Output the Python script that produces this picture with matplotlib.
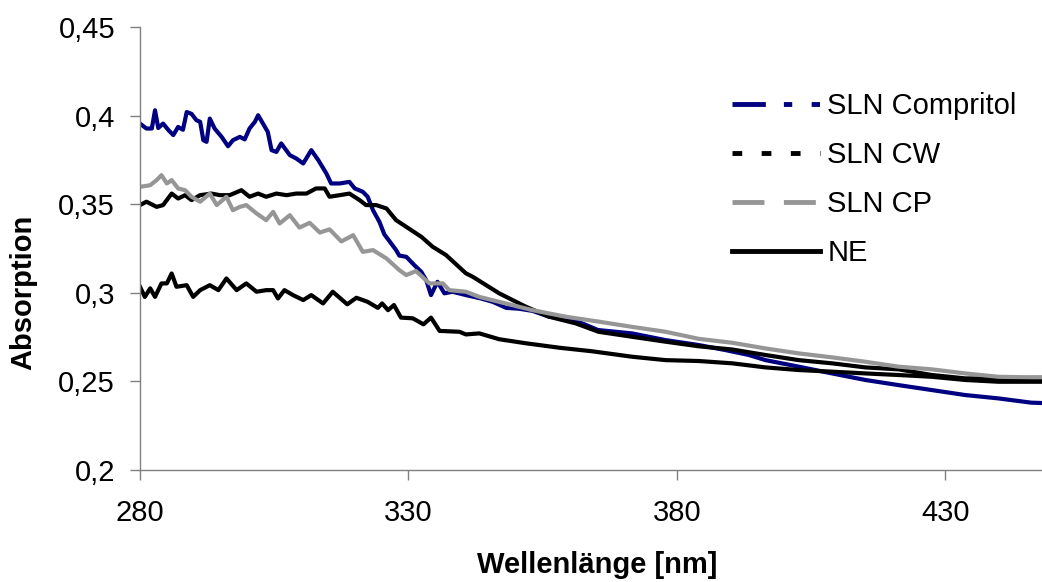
import matplotlib
matplotlib.use('Agg')
import matplotlib.pyplot as plt
from matplotlib.lines import Line2D
from matplotlib.ticker import FuncFormatter, MultipleLocator

# wavelength [nm] / absorption
wl_comp = [280.0, 281.2, 282.2, 282.8, 283.4, 284.3, 285.3, 286.2, 287.1, 288.0,
           288.7, 289.6, 290.5, 291.2, 291.8, 292.4, 293.0, 293.9, 295.2, 296.4,
           297.3, 298.6, 299.5, 300.4, 301.4, 302.0, 302.9, 303.8, 304.5, 305.4,
           306.3, 307.9, 309.1, 310.4, 311.9, 313.2, 314.7, 315.6, 317.2, 319.0,
           320.0, 321.5, 322.4, 323.4, 324.6, 325.5, 326.5, 327.7, 328.3, 329.6,
           331.1, 332.4, 333.3, 334.2, 335.4, 336.7, 338.2, 340.7, 343.5, 345.7,
           348.2, 350.6, 353.1, 356.2, 359.3, 362.4, 365.3, 371.6, 377.9, 384.1,
           389.0, 393.4, 396.5, 402.7, 408.9, 415.1, 421.3, 427.5, 433.7, 439.9,
           446.0, 448.0]
abs_comp = [0.3955, 0.3927, 0.3927, 0.4030, 0.3930, 0.3955, 0.3918, 0.3890, 0.3936, 0.3920,
            0.4020, 0.4010, 0.3974, 0.3965, 0.3861, 0.3852, 0.3983, 0.3927, 0.3880, 0.3827,
            0.3861, 0.3880, 0.3866, 0.3927, 0.3965, 0.4002, 0.3955, 0.3908, 0.3805, 0.3795,
            0.3843, 0.3777, 0.3758, 0.3730, 0.3805, 0.3749, 0.3674, 0.3617, 0.3617, 0.3626,
            0.3589, 0.3570, 0.3542, 0.3466, 0.3400, 0.3330, 0.3290, 0.3241, 0.3210, 0.3203,
            0.3156, 0.3118, 0.3072, 0.2987, 0.3062, 0.2997, 0.3006, 0.2987, 0.2968, 0.2949,
            0.2915, 0.2910, 0.2898, 0.2865, 0.2855, 0.2827, 0.2790, 0.2771, 0.2733, 0.2705,
            0.2677, 0.2649, 0.2620, 0.2583, 0.2545, 0.2508, 0.2479, 0.2451, 0.2423, 0.2404,
            0.2380, 0.2378]

wl_cw = [280.0, 281.2, 283.1, 284.3, 285.9, 287.1, 288.4, 289.6, 291.2, 293.3,
         294.9, 296.7, 298.9, 300.4, 302.0, 303.5, 305.4, 307.3, 309.1, 311.0,
         312.8, 314.4, 315.3, 317.2, 319.0, 320.9, 322.1, 324.0, 325.9, 327.7,
         329.6, 332.4, 334.5, 337.0, 340.7, 342.0, 346.9, 351.9, 356.2, 361.2,
         365.4, 371.6, 377.9, 384.1, 390.3, 396.5, 402.7, 408.9, 415.1, 421.3,
         427.5, 433.7, 439.9, 446.0, 448.0]
abs_cw = [0.3495, 0.3514, 0.3485, 0.3495, 0.3560, 0.3532, 0.3551, 0.3523, 0.3551, 0.3560,
          0.3551, 0.3551, 0.3579, 0.3542, 0.3560, 0.3542, 0.3560, 0.3551, 0.3560, 0.3560,
          0.3589, 0.3589, 0.3542, 0.3551, 0.3560, 0.3523, 0.3495, 0.3495, 0.3476, 0.3410,
          0.3372, 0.3316, 0.3260, 0.3213, 0.3110, 0.3090, 0.2997, 0.2921, 0.2865, 0.2827,
          0.2780, 0.2752, 0.2724, 0.2698, 0.2680, 0.2649, 0.2620, 0.2602, 0.2579, 0.2568,
          0.2536, 0.2517, 0.2515, 0.2520, 0.2520]

wl_cp = [280.0, 281.9, 283.1, 284.0, 285.0, 285.9, 287.1, 288.4, 289.6, 291.2,
         293.0, 294.3, 296.1, 297.3, 298.6, 299.8, 301.7, 303.5, 304.8, 306.0,
         307.9, 309.7, 311.6, 313.5, 315.3, 317.5, 319.7, 321.5, 323.4, 325.9,
         328.3, 329.6, 331.4, 333.9, 336.4, 337.6, 340.7, 343.2, 346.9, 353.1,
         359.3, 365.5, 371.6, 377.9, 384.1, 390.3, 396.5, 402.7, 408.8, 415.1,
         421.3, 427.5, 433.7, 439.9, 446.0, 448.0]
abs_cp = [0.3598, 0.3607, 0.3636, 0.3664, 0.3617, 0.3636, 0.3589, 0.3579, 0.3542, 0.3514,
          0.3560, 0.3495, 0.3542, 0.3466, 0.3485, 0.3495, 0.3448, 0.3410, 0.3457, 0.3391,
          0.3438, 0.3368, 0.3395, 0.3340, 0.3358, 0.3290, 0.3325, 0.3231, 0.3241, 0.3194,
          0.3128, 0.3100, 0.3123, 0.3053, 0.3053, 0.3015, 0.3006, 0.2977, 0.2949, 0.2902,
          0.2865, 0.2837, 0.2808, 0.2780, 0.2740, 0.2718, 0.2686, 0.2658, 0.2636, 0.2611,
          0.2583, 0.2568, 0.2545, 0.2526, 0.2523, 0.2523]

wl_ne = [280.0, 280.9, 281.9, 282.8, 284.0, 285.0, 285.9, 286.8, 288.7, 289.9,
         291.2, 293.0, 294.6, 296.1, 298.0, 299.8, 301.7, 303.5, 304.8, 305.7,
         306.9, 308.5, 310.4, 311.9, 314.1, 315.9, 318.6, 320.3, 322.4, 324.3,
         325.1, 326.2, 327.3, 328.6, 330.8, 332.8, 334.2, 335.8, 339.5, 340.7,
         343.2, 346.9, 351.9, 358.1, 364.2, 371.7, 377.9, 384.1, 390.3, 396.5,
         402.7, 408.8, 415.1, 421.3, 427.5, 433.7, 439.9, 446.0, 448.0]
abs_ne = [0.3034, 0.2977, 0.3025, 0.2977, 0.3053, 0.3053, 0.3109, 0.3034, 0.3043, 0.2977,
          0.3015, 0.3043, 0.3015, 0.3081, 0.3015, 0.3053, 0.3006, 0.3015, 0.3015, 0.2968,
          0.3015, 0.2987, 0.2959, 0.2987, 0.2940, 0.3006, 0.2935, 0.2972, 0.2949, 0.2915,
          0.2940, 0.2902, 0.2931, 0.2860, 0.2856, 0.2822, 0.2860, 0.2785, 0.2780, 0.2765,
          0.2771, 0.2738, 0.2715, 0.2690, 0.2670, 0.2639, 0.2620, 0.2615, 0.2602, 0.2579,
          0.2564, 0.2555, 0.2545, 0.2536, 0.2526, 0.2508, 0.2498, 0.2498, 0.2498]

labels = ["SLN Compritol", "SLN CW", "SLN CP", "NE"]
x_ticks = [280, 330, 380, 430]

NAVY = "#000080"
GRAY = "#969696"

plt.rcParams['font.family'] = ['Liberation Sans', 'DejaVu Sans']
plt.rcParams['lines.scale_dashes'] = False

fig = plt.figure(figsize=(10.42, 5.82), dpi=100)
ax = fig.add_axes([140 / 1042, 112 / 582, 902 / 1042, 443 / 582])

# the dense spectra make the dashes look nearly solid, so draw them solid
ax.plot(wl_comp, abs_comp, color=NAVY, lw=3.0, solid_joinstyle='round')
ax.plot(wl_cw, abs_cw, color='black', lw=3.0, solid_joinstyle='round')
ax.plot(wl_cp, abs_cp, color=GRAY, lw=3.0, solid_joinstyle='round')
ax.plot(wl_ne, abs_ne, color='black', lw=3.0, solid_joinstyle='round')

ax.set_xlim(280, 448)
ax.set_ylim(0.2, 0.45)
ax.set_xticks(x_ticks)
ax.yaxis.set_major_locator(MultipleLocator(0.05))
ax.yaxis.set_major_formatter(FuncFormatter(lambda v, p: f"{v:g}".replace('.', ',')))

for side in ['top', 'right']:
    ax.spines[side].set_visible(False)
for side in ['left', 'bottom']:
    ax.spines[side].set_color('#808080')
    ax.spines[side].set_linewidth(1)

ax.tick_params(axis='both', direction='out', length=7, width=1, color='#808080',
               labelsize=21, labelcolor='black')
ax.tick_params(axis='x', pad=14)
ax.tick_params(axis='y', pad=11)

ax.set_xlabel('Wellenlänge [nm]', fontsize=21, fontweight='bold')
ax.set_ylabel('Absorption', fontsize=21, fontweight='bold')
ax.xaxis.set_label_coords(0.507, -0.183)
ax.yaxis.set_label_coords(-0.114, 0.40)

handles = [
    Line2D([], [], color=NAVY, lw=3.5, dashes=(24, 13, 6, 14, 6, 14)),
    Line2D([], [], color='black', lw=3.5, dashes=(7, 14)),
    Line2D([], [], color=GRAY, lw=3.5, dashes=(23, 14)),
    Line2D([], [], color='black', lw=3.5),
]
ax.legend(handles, labels, loc='upper left', bbox_to_anchor=(732 / 1042, 1 - 92 / 582),
          bbox_transform=fig.transFigure, frameon=False, fontsize=21,
          handlelength=3.0, handletextpad=0.27, labelspacing=0.72,
          borderpad=0, borderaxespad=0)

fig.savefig('out.png', dpi=100, facecolor='white')
